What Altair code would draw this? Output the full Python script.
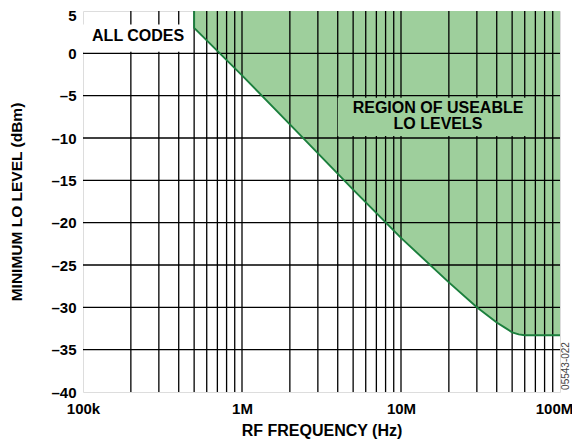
import altair as alt
import pandas as pd

# boundary of usable LO levels
freq_hz = [5e5, 5e5, 1e6, 2e6, 5e6, 1e7, 2e7, 3e7, 4e7, 4.5e7, 5e7, 5.5e7, 6e7, 1e8]
min_lo_dbm = [5, 3.0, -2.6, -8.4, -16.1, -21.8, -27.05, -30.0, -31.8, -32.4, -32.95, -33.2, -33.3, -33.3]

x_grid = [m * 10 ** e for e in (5, 6, 7) for m in range(1, 10)][1:]
y_grid = [-35, -30, -25, -20, -15, -10, -5, 0]
x_ticks = [1e5, 1e6, 1e7, 1e8]
x_tick_labels = ["100k", "1M", "10M", "100M"]
y_ticks = [-40, -35, -30, -25, -20, -15, -10, -5, 0, 5]

FONT = "Liberation Sans"
FILL = "#9ecf9c"
LINE = "#1b7f3d"

df = pd.DataFrame({"f": freq_hz, "lvl": min_lo_dbm, "i": list(range(len(freq_hz)))})
df_area = pd.DataFrame({"f": freq_hz[1:], "lvl": min_lo_dbm[1:]})

xs = alt.Scale(type="log", domain=[1e5, 1e8], nice=False)
ys = alt.Scale(domain=[-40, 5], nice=False, zero=False)

label_expr = " : ".join(
    f"datum.value == {v:g} ? '{t}'" for v, t in zip(x_ticks, x_tick_labels)
) + " : ''"

x_axis = alt.Axis(values=x_ticks, labelExpr=label_expr, grid=False, ticks=False,
                  domain=False, title="RF FREQUENCY (Hz)", labelFont=FONT,
                  labelFontWeight="bold", labelFontSize=15, labelColor="black",
                  labelPadding=9, titleFont=FONT, titleFontSize=16,
                  titleFontWeight="bold", titleColor="black", titlePadding=6,
                  labelFlush=False,
                  labelOffset={"condition": {"test": "datum.value == 1e8", "value": -6}, "value": 0})
y_axis = alt.Axis(values=y_ticks, grid=False, ticks=False, domain=False,
                  labelExpr="datum.value < 0 ? '\u2013' + abs(datum.value) : '' + datum.value",
                  labelOffset={"condition": {"test": "datum.value == 5", "value": 4}, "value": 0},
                  title="MINIMUM LO LEVEL (dBm)", labelFont=FONT,
                  labelFontWeight="bold", labelFontSize=15, labelColor="black",
                  labelPadding=7, titleFont=FONT, titleFontSize=15.5,
                  titleFontWeight="bold", titleColor="black", titlePadding=26)

area = alt.Chart(df_area).mark_area(color=FILL, opacity=1, line=False).encode(
    x=alt.X("f:Q", scale=xs, axis=x_axis),
    y=alt.Y("lvl:Q", scale=ys, axis=y_axis, stack=None),
    y2=alt.datum(5),
)

vgrid = alt.Chart(pd.DataFrame({"g": x_grid})).mark_rule(color="black", strokeWidth=1.3).encode(
    x=alt.X("g:Q", scale=xs)
)
hgrid = alt.Chart(pd.DataFrame({"g": y_grid})).mark_rule(color="black", strokeWidth=1.3).encode(
    y=alt.Y("g:Q", scale=ys)
)

line = alt.Chart(df).mark_line(color=LINE, strokeWidth=1.9).encode(
    x=alt.X("f:Q", scale=xs), y=alt.Y("lvl:Q", scale=ys), order="i:Q"
)

boxes = pd.DataFrame({
    "x1": [1.0e5, 4.0e6], "x2": [4.7e5, 6.8e7],
    "y1": [0.2, -5.25], "y2": [3.4, -9.75], "c": ["white", FILL],
})
box = alt.Chart(boxes).mark_rect().encode(
    x=alt.X("x1:Q", scale=xs), x2="x2:Q",
    y=alt.Y("y1:Q", scale=ys), y2="y2:Q",
    color=alt.Color("c:N", scale=None),
)

txt = pd.DataFrame({
    "x": [1.14e5, 1.71e7, 1.71e7], "y": [2.0, -6.45, -8.35],
    "t": ["ALL CODES", "REGION OF USEABLE", "LO LEVELS"],
})
text_left = alt.Chart(txt.iloc[:1]).mark_text(font=FONT, fontWeight="bold", fontSize=16,
                                               align="left", baseline="middle", color="black").encode(
    x=alt.X("x:Q", scale=xs), y=alt.Y("y:Q", scale=ys), text="t:N")
text_center = alt.Chart(txt.iloc[1:]).mark_text(font=FONT, fontWeight="bold", fontSize=16,
                                                align="center", baseline="middle", color="black").encode(
    x=alt.X("x:Q", scale=xs), y=alt.Y("y:Q", scale=ys), text="t:N")

code = alt.Chart(pd.DataFrame({"t": ["05543-022"]})).mark_text(
    font=FONT, fontSize=10, angle=270, color="#444444", align="center", baseline="middle"
).encode(x=alt.value(483), y=alt.value(355), text="t:N")

chart = alt.layer(area, vgrid, hgrid, line, box, text_left, text_center, code).properties(
    width=477, height=381,
    autosize=alt.AutoSizeParams(type="none"),
    padding={"left": 75, "top": 3, "right": 12, "bottom": 48},
).configure_view(stroke="black", strokeWidth=2.2).configure(background="white")

chart.save("out.html", embed_options={"renderer": "svg", "actions": False})
